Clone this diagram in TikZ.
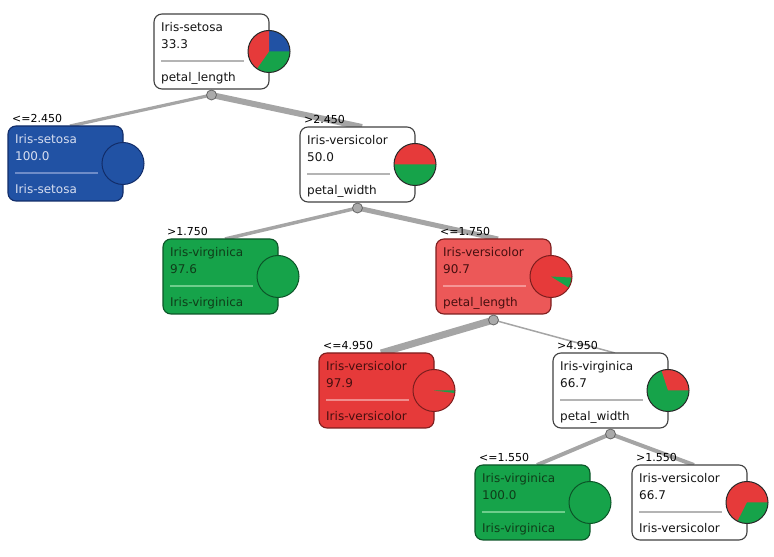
\documentclass[tikz,border=0pt]{standalone}
\usepackage{fontspec}
\setmainfont{DejaVu Sans}
\usetikzlibrary{backgrounds}
\definecolor{cblue}{RGB}{33,82,164}
\definecolor{cbluedk}{RGB}{18,45,105}
\definecolor{cgreen}{RGB}{22,163,74}
\definecolor{cgreendk}{RGB}{12,85,40}
\definecolor{cred}{RGB}{230,58,58}
\definecolor{creddk}{RGB}{125,30,30}
\definecolor{clred}{RGB}{236,88,88}
\definecolor{cedge}{RGB}{165,165,165}
\definecolor{cborder}{RGB}{65,65,65}
\definecolor{cdark}{RGB}{40,40,40}
\tikzset{
  box/.style={rectangle, rounded corners=8pt, minimum width=115pt, minimum height=75pt,
    inner sep=0pt, outer sep=0pt, line width=1.1pt},
  whitebox/.style={box, fill=white, draw=cborder},
  bluebox/.style={box, fill=cblue, draw=cbluedk},
  greenbox/.style={box, fill=cgreen, draw=cgreendk},
  redbox/.style={box, fill=cred, draw=creddk},
  lredbox/.style={box, fill=clred, draw=creddk},
  txt/.style={inner sep=0pt, anchor=base west, font=\fontsize{12}{14}\selectfont},
  whitetxt/.style={txt, text=black!92},
  bluetxt/.style={txt, text={rgb,255:red,215;green,222;blue,240}},
  greentxt/.style={txt, text={rgb,255:red,15;green,60;blue,25}},
  redtxt/.style={txt, text={rgb,255:red,70;green,15;blue,15}},
  lredtxt/.style={txt, text={rgb,255:red,70;green,15;blue,15}},
  sepline/.style={line width=1.1pt},
  whitesep/.style={sepline, draw={rgb,255:red,180;green,180;blue,180}},
  bluesep/.style={sepline, draw={rgb,255:red,110;green,140;blue,200}},
  greensep/.style={sepline, draw={rgb,255:red,110;green,205;blue,140}},
  redsep/.style={sepline, draw={rgb,255:red,240;green,140;blue,140}},
  lredsep/.style={sepline, draw={rgb,255:red,245;green,150;blue,150}},
  edgeline/.style={draw=cedge},
  jdot/.style={circle, fill={rgb,255:red,170;green,170;blue,170}, draw=black!60,
    line width=0.8pt, minimum size=10pt, inner sep=0pt},
  lbl/.style={inner sep=0pt, anchor=base west, font=\fontsize{11}{13}\selectfont, text=black}
}
\newcommand\treebox[6]{%
  \node[#3box] (#1) at (#2) {};
  \node[#3txt] (#1-a) at ([shift={(7,-18)}]#1.north west) {#4};
  \node[#3txt] (#1-b) at ([shift={(7,-35)}]#1.north west) {#5};
  \draw[#3sep] ([shift={(7,-47)}]#1.north west) -- ([shift={(90,-47)}]#1.north west);
  \node[#3txt] (#1-c) at ([shift={(7,-68)}]#1.north west) {#6};
}
\newcommand\piebase[2]{%
  \node[circle, minimum size=42pt, inner sep=0pt, outer sep=0pt, fill=#2] (#1-pie) at (#1.east) {};
}
\newcommand\pieslice[4]{%
  \fill[#2] (#1.east) -- ++(#3:21) arc[start angle=#3, end angle=#4, radius=21] -- cycle;
}
\newcommand\pieborder[2]{%
  \draw[#2, line width=1pt] (#1.east) circle[radius=21];
}
\begin{document}
\begin{tikzpicture}[x=1pt, y=1pt]
\useasboundingbox (0,0) rectangle (774,557);
% boxes
\treebox{n1}{211.5,505.5}{white}{Iris-setosa}{33.3}{petal\_length}
\treebox{n2}{65.5,393.5}{blue}{Iris-setosa}{100.0}{Iris-setosa}
\treebox{n3}{357.5,392.5}{white}{Iris-versicolor}{50.0}{petal\_width}
\treebox{n4}{220.5,280.5}{green}{Iris-virginica}{97.6}{Iris-virginica}
\treebox{n5}{493.5,280.5}{lred}{Iris-versicolor}{90.7}{petal\_length}
\treebox{n6}{376.5,166.5}{red}{Iris-versicolor}{97.9}{Iris-versicolor}
\treebox{n7}{610.5,166.5}{white}{Iris-virginica}{66.7}{petal\_width}
\treebox{n8}{532.5,54.5}{green}{Iris-virginica}{100.0}{Iris-virginica}
\treebox{n9}{689.5,54.5}{white}{Iris-versicolor}{66.7}{Iris-versicolor}
% pies
\piebase{n1}{cgreen}
\pieslice{n1}{cblue}{0}{90}
\pieslice{n1}{cred}{90}{235}
\pieborder{n1}{cdark}
\piebase{n2}{cblue}
\pieborder{n2}{cbluedk}
\piebase{n3}{cgreen}
\pieslice{n3}{cred}{0}{180}
\pieborder{n3}{cdark}
\piebase{n4}{cgreen}
\pieborder{n4}{cgreendk}
\piebase{n5}{cred}
\pieslice{n5}{cgreen}{-32}{-3}
\pieborder{n5}{creddk}
\piebase{n6}{cred}
\pieslice{n6}{cgreen}{-7}{0}
\pieborder{n6}{creddk}
\piebase{n7}{cgreen}
\pieslice{n7}{cred}{0}{108}
\pieborder{n7}{cdark}
\piebase{n8}{cgreen}
\pieborder{n8}{cgreendk}
\piebase{n9}{cred}
\pieslice{n9}{cgreen}{-117}{0}
\pieborder{n9}{cdark}
% entry points of children
\foreach \n in {n2,n3,n4,n5,n6,n7,n8,n9} {
  \coordinate (\n-in) at ([xshift=62]\n.north west);
}
% junction dots
\node[jdot] (n1-j) at ([yshift=-6]n1.south) {};
\node[jdot] (n3-j) at ([yshift=-6]n3.south) {};
\node[jdot] (n5-j) at ([yshift=-6]n5.south) {};
\node[jdot] (n7-j) at ([yshift=-6]n7.south) {};
% branch labels
\node[lbl] (l2) at ([shift={(4,3)}]n2.north west) {<=2.450};
\node[lbl] (l3) at ([shift={(4,3)}]n3.north west) {>2.450};
\node[lbl] (l4) at ([shift={(4,3)}]n4.north west) {>1.750};
\node[lbl] (l5) at ([shift={(4,3)}]n5.north west) {<=1.750};
\node[lbl] (l6) at ([shift={(4,3)}]n6.north west) {<=4.950};
\node[lbl] (l7) at ([shift={(4,3)}]n7.north west) {>4.950};
\node[lbl] (l8) at ([shift={(4,3)}]n8.north west) {<=1.550};
\node[lbl] (l9) at ([shift={(4,3)}]n9.north west) {>1.550};
% connectors
\begin{scope}[on background layer]
  \draw[edgeline, line width=3.2pt] (n1-j.center) -- (n2-in);
  \draw[edgeline, line width=6pt] (n1-j.center) -- (n3-in);
  \draw[edgeline, line width=3.5pt] (n3-j.center) -- (n4-in);
  \draw[edgeline, line width=5pt] (n3-j.center) -- (n5-in);
  \draw[edgeline, line width=7pt] (n5-j.center) -- (n6-in);
  \draw[edgeline, line width=1.5pt] (n5-j.center) -- (n7-in);
  \draw[edgeline, line width=4pt] (n7-j.center) -- (n8-in);
  \draw[edgeline, line width=4pt] (n7-j.center) -- (n9-in);
\end{scope}
\end{tikzpicture}
\end{document}
